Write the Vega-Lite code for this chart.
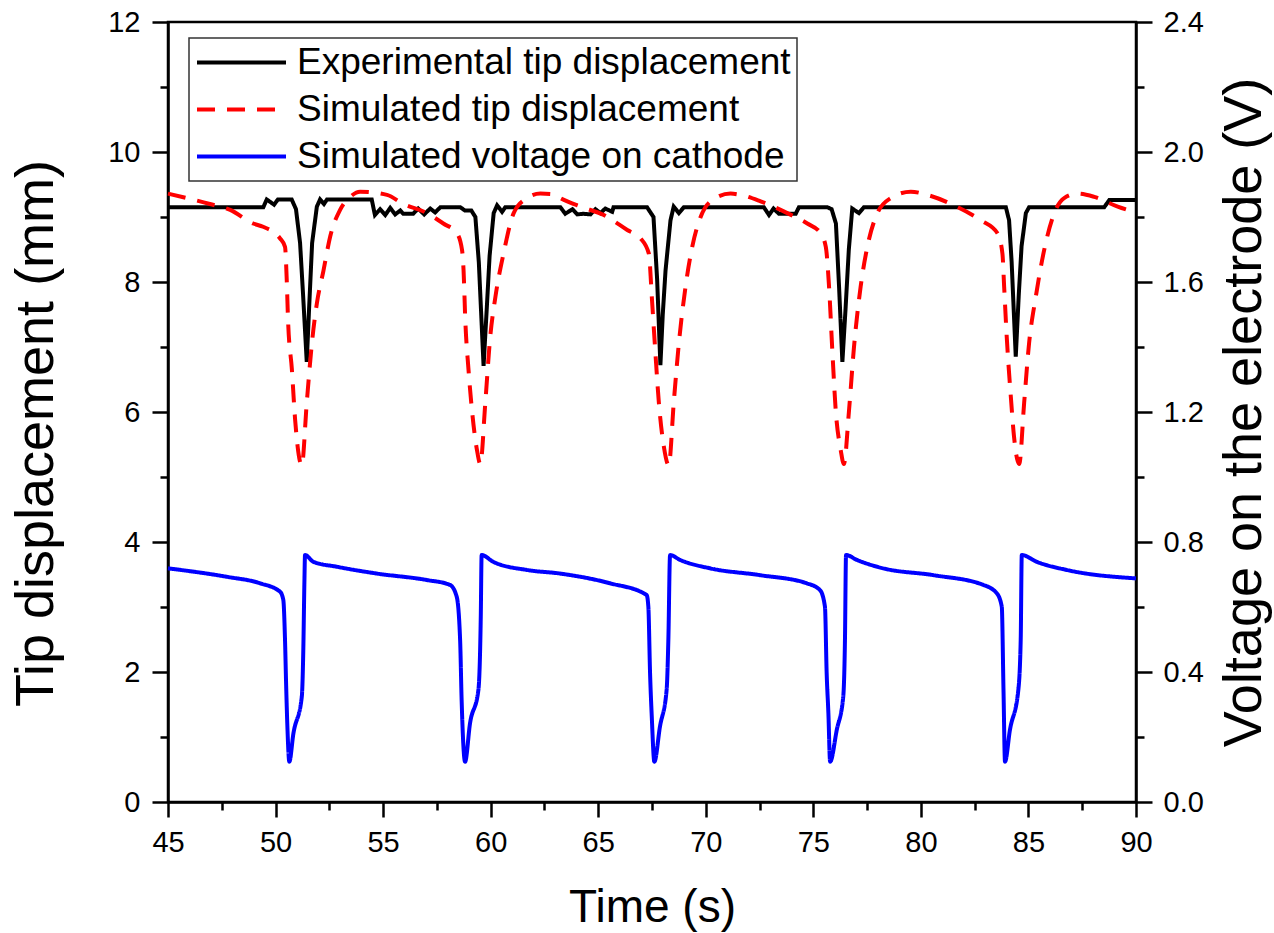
{
  "$schema": "https://vega.github.io/schema/vega-lite/v6.json",
  "autosize": {"type": "none"},
  "width": 968,
  "height": 780,
  "padding": {"left": 168, "top": 22, "right": 138, "bottom": 131},
  "background": "white",
  "config": {
    "font": "Liberation Sans",
    "view": {"stroke": "black", "strokeWidth": 2.5},
    "axis": {
      "domainColor": "black", "domainWidth": 2.5, "tickColor": "black", "tickWidth": 2.5,
      "labelColor": "black", "titleColor": "black", "grid": false,
      "labelFont": "Liberation Sans", "titleFont": "Liberation Sans", "titleFontWeight": "normal",
      "labelFontSize": 29, "titleFontSize": 54, "labelFlush": false, "labelOverlap": false, "labelBound": false
    },
    "legend": {"strokeColor": "#333333", "strokeWidth": 1.5, "fillColor": "white"}
  },
  "data": {"values": [
    {"t": 45.0, "v": 9.15, "s": "Experimental tip displacement"},
    {"t": 49.43, "v": 9.15, "s": "Experimental tip displacement"},
    {"t": 49.59, "v": 9.27, "s": "Experimental tip displacement"},
    {"t": 49.93, "v": 9.19, "s": "Experimental tip displacement"},
    {"t": 50.11, "v": 9.27, "s": "Experimental tip displacement"},
    {"t": 50.75, "v": 9.27, "s": "Experimental tip displacement"},
    {"t": 50.95, "v": 9.12, "s": "Experimental tip displacement"},
    {"t": 51.14, "v": 8.6, "s": "Experimental tip displacement"},
    {"t": 51.28, "v": 7.8, "s": "Experimental tip displacement"},
    {"t": 51.45, "v": 6.77, "s": "Experimental tip displacement"},
    {"t": 51.56, "v": 7.6, "s": "Experimental tip displacement"},
    {"t": 51.7, "v": 8.6, "s": "Experimental tip displacement"},
    {"t": 51.92, "v": 9.16, "s": "Experimental tip displacement"},
    {"t": 52.07, "v": 9.27, "s": "Experimental tip displacement"},
    {"t": 52.25, "v": 9.2, "s": "Experimental tip displacement"},
    {"t": 52.39, "v": 9.27, "s": "Experimental tip displacement"},
    {"t": 54.47, "v": 9.27, "s": "Experimental tip displacement"},
    {"t": 54.62, "v": 9.03, "s": "Experimental tip displacement"},
    {"t": 54.86, "v": 9.12, "s": "Experimental tip displacement"},
    {"t": 55.1, "v": 9.03, "s": "Experimental tip displacement"},
    {"t": 55.33, "v": 9.14, "s": "Experimental tip displacement"},
    {"t": 55.56, "v": 9.04, "s": "Experimental tip displacement"},
    {"t": 55.8, "v": 9.1, "s": "Experimental tip displacement"},
    {"t": 55.94, "v": 9.05, "s": "Experimental tip displacement"},
    {"t": 56.4, "v": 9.05, "s": "Experimental tip displacement"},
    {"t": 56.63, "v": 9.13, "s": "Experimental tip displacement"},
    {"t": 56.91, "v": 9.04, "s": "Experimental tip displacement"},
    {"t": 57.19, "v": 9.13, "s": "Experimental tip displacement"},
    {"t": 57.42, "v": 9.07, "s": "Experimental tip displacement"},
    {"t": 57.66, "v": 9.15, "s": "Experimental tip displacement"},
    {"t": 58.59, "v": 9.15, "s": "Experimental tip displacement"},
    {"t": 58.8, "v": 9.1, "s": "Experimental tip displacement"},
    {"t": 59.1, "v": 9.1, "s": "Experimental tip displacement"},
    {"t": 59.29, "v": 9.0, "s": "Experimental tip displacement"},
    {"t": 59.45, "v": 8.3, "s": "Experimental tip displacement"},
    {"t": 59.67, "v": 6.71, "s": "Experimental tip displacement"},
    {"t": 59.82, "v": 7.6, "s": "Experimental tip displacement"},
    {"t": 59.95, "v": 8.4, "s": "Experimental tip displacement"},
    {"t": 60.14, "v": 9.06, "s": "Experimental tip displacement"},
    {"t": 60.3, "v": 9.18, "s": "Experimental tip displacement"},
    {"t": 60.53, "v": 9.08, "s": "Experimental tip displacement"},
    {"t": 60.68, "v": 9.15, "s": "Experimental tip displacement"},
    {"t": 63.24, "v": 9.15, "s": "Experimental tip displacement"},
    {"t": 63.47, "v": 9.05, "s": "Experimental tip displacement"},
    {"t": 63.8, "v": 9.12, "s": "Experimental tip displacement"},
    {"t": 64.03, "v": 9.04, "s": "Experimental tip displacement"},
    {"t": 64.3, "v": 9.05, "s": "Experimental tip displacement"},
    {"t": 64.64, "v": 9.04, "s": "Experimental tip displacement"},
    {"t": 64.87, "v": 9.12, "s": "Experimental tip displacement"},
    {"t": 65.1, "v": 9.06, "s": "Experimental tip displacement"},
    {"t": 65.33, "v": 9.13, "s": "Experimental tip displacement"},
    {"t": 65.65, "v": 9.08, "s": "Experimental tip displacement"},
    {"t": 65.71, "v": 9.15, "s": "Experimental tip displacement"},
    {"t": 67.27, "v": 9.15, "s": "Experimental tip displacement"},
    {"t": 67.57, "v": 9.0, "s": "Experimental tip displacement"},
    {"t": 67.74, "v": 8.03, "s": "Experimental tip displacement"},
    {"t": 67.89, "v": 6.72, "s": "Experimental tip displacement"},
    {"t": 68.0, "v": 7.5, "s": "Experimental tip displacement"},
    {"t": 68.13, "v": 8.18, "s": "Experimental tip displacement"},
    {"t": 68.36, "v": 8.95, "s": "Experimental tip displacement"},
    {"t": 68.51, "v": 9.16, "s": "Experimental tip displacement"},
    {"t": 68.75, "v": 9.06, "s": "Experimental tip displacement"},
    {"t": 68.98, "v": 9.15, "s": "Experimental tip displacement"},
    {"t": 72.7, "v": 9.15, "s": "Experimental tip displacement"},
    {"t": 72.94, "v": 9.03, "s": "Experimental tip displacement"},
    {"t": 73.15, "v": 9.13, "s": "Experimental tip displacement"},
    {"t": 73.4, "v": 9.05, "s": "Experimental tip displacement"},
    {"t": 74.18, "v": 9.05, "s": "Experimental tip displacement"},
    {"t": 74.33, "v": 9.15, "s": "Experimental tip displacement"},
    {"t": 75.65, "v": 9.15, "s": "Experimental tip displacement"},
    {"t": 75.85, "v": 9.12, "s": "Experimental tip displacement"},
    {"t": 76.05, "v": 8.9, "s": "Experimental tip displacement"},
    {"t": 76.2, "v": 7.9, "s": "Experimental tip displacement"},
    {"t": 76.35, "v": 6.77, "s": "Experimental tip displacement"},
    {"t": 76.5, "v": 7.6, "s": "Experimental tip displacement"},
    {"t": 76.65, "v": 8.5, "s": "Experimental tip displacement"},
    {"t": 76.81, "v": 9.13, "s": "Experimental tip displacement"},
    {"t": 77.12, "v": 9.06, "s": "Experimental tip displacement"},
    {"t": 77.35, "v": 9.15, "s": "Experimental tip displacement"},
    {"t": 83.95, "v": 9.15, "s": "Experimental tip displacement"},
    {"t": 84.1, "v": 8.95, "s": "Experimental tip displacement"},
    {"t": 84.22, "v": 8.3, "s": "Experimental tip displacement"},
    {"t": 84.41, "v": 6.85, "s": "Experimental tip displacement"},
    {"t": 84.55, "v": 7.8, "s": "Experimental tip displacement"},
    {"t": 84.68, "v": 8.55, "s": "Experimental tip displacement"},
    {"t": 84.88, "v": 9.06, "s": "Experimental tip displacement"},
    {"t": 85.03, "v": 9.15, "s": "Experimental tip displacement"},
    {"t": 88.52, "v": 9.15, "s": "Experimental tip displacement"},
    {"t": 88.76, "v": 9.26, "s": "Experimental tip displacement"},
    {"t": 90.0, "v": 9.26, "s": "Experimental tip displacement"},

    {"t": 45.0, "v": 9.36, "s": "Simulated tip displacement"},
    {"t": 46.95, "v": 9.2, "s": "Simulated tip displacement"},
    {"t": 47.89, "v": 9.11, "s": "Simulated tip displacement"},
    {"t": 48.96, "v": 8.9, "s": "Simulated tip displacement"},
    {"t": 49.42, "v": 8.85, "s": "Simulated tip displacement"},
    {"t": 50.21, "v": 8.67, "s": "Simulated tip displacement"},
    {"t": 50.44, "v": 8.54, "s": "Simulated tip displacement"},
    {"t": 50.52, "v": 8.03, "s": "Simulated tip displacement"},
    {"t": 50.58, "v": 7.42, "s": "Simulated tip displacement"},
    {"t": 50.76, "v": 6.65, "s": "Simulated tip displacement"},
    {"t": 50.91, "v": 5.88, "s": "Simulated tip displacement"},
    {"t": 51.22, "v": 5.18, "s": "Simulated tip displacement"},
    {"t": 51.45, "v": 6.14, "s": "Simulated tip displacement"},
    {"t": 51.69, "v": 7.06, "s": "Simulated tip displacement"},
    {"t": 51.92, "v": 7.67, "s": "Simulated tip displacement"},
    {"t": 52.23, "v": 8.18, "s": "Simulated tip displacement"},
    {"t": 52.54, "v": 8.7, "s": "Simulated tip displacement"},
    {"t": 53.0, "v": 9.11, "s": "Simulated tip displacement"},
    {"t": 53.47, "v": 9.31, "s": "Simulated tip displacement"},
    {"t": 53.93, "v": 9.39, "s": "Simulated tip displacement"},
    {"t": 55.18, "v": 9.34, "s": "Simulated tip displacement"},
    {"t": 55.94, "v": 9.2, "s": "Simulated tip displacement"},
    {"t": 57.04, "v": 9.06, "s": "Simulated tip displacement"},
    {"t": 57.8, "v": 8.9, "s": "Simulated tip displacement"},
    {"t": 58.43, "v": 8.75, "s": "Simulated tip displacement"},
    {"t": 58.67, "v": 8.49, "s": "Simulated tip displacement"},
    {"t": 58.74, "v": 8.18, "s": "Simulated tip displacement"},
    {"t": 58.82, "v": 7.42, "s": "Simulated tip displacement"},
    {"t": 58.97, "v": 6.65, "s": "Simulated tip displacement"},
    {"t": 59.13, "v": 6.03, "s": "Simulated tip displacement"},
    {"t": 59.36, "v": 5.42, "s": "Simulated tip displacement"},
    {"t": 59.52, "v": 5.2, "s": "Simulated tip displacement"},
    {"t": 59.75, "v": 6.14, "s": "Simulated tip displacement"},
    {"t": 59.98, "v": 7.16, "s": "Simulated tip displacement"},
    {"t": 60.22, "v": 7.77, "s": "Simulated tip displacement"},
    {"t": 60.6, "v": 8.44, "s": "Simulated tip displacement"},
    {"t": 61.07, "v": 9.06, "s": "Simulated tip displacement"},
    {"t": 61.69, "v": 9.29, "s": "Simulated tip displacement"},
    {"t": 62.31, "v": 9.36, "s": "Simulated tip displacement"},
    {"t": 62.92, "v": 9.35, "s": "Simulated tip displacement"},
    {"t": 63.24, "v": 9.29, "s": "Simulated tip displacement"},
    {"t": 64.17, "v": 9.16, "s": "Simulated tip displacement"},
    {"t": 65.26, "v": 9.03, "s": "Simulated tip displacement"},
    {"t": 66.35, "v": 8.8, "s": "Simulated tip displacement"},
    {"t": 66.97, "v": 8.67, "s": "Simulated tip displacement"},
    {"t": 67.35, "v": 8.44, "s": "Simulated tip displacement"},
    {"t": 67.51, "v": 7.67, "s": "Simulated tip displacement"},
    {"t": 67.66, "v": 6.9, "s": "Simulated tip displacement"},
    {"t": 67.82, "v": 6.14, "s": "Simulated tip displacement"},
    {"t": 68.05, "v": 5.47, "s": "Simulated tip displacement"},
    {"t": 68.28, "v": 5.18, "s": "Simulated tip displacement"},
    {"t": 68.51, "v": 6.14, "s": "Simulated tip displacement"},
    {"t": 68.75, "v": 7.06, "s": "Simulated tip displacement"},
    {"t": 69.06, "v": 7.93, "s": "Simulated tip displacement"},
    {"t": 69.37, "v": 8.54, "s": "Simulated tip displacement"},
    {"t": 69.76, "v": 9.0, "s": "Simulated tip displacement"},
    {"t": 70.22, "v": 9.24, "s": "Simulated tip displacement"},
    {"t": 71.15, "v": 9.36, "s": "Simulated tip displacement"},
    {"t": 71.62, "v": 9.34, "s": "Simulated tip displacement"},
    {"t": 72.55, "v": 9.24, "s": "Simulated tip displacement"},
    {"t": 73.79, "v": 9.06, "s": "Simulated tip displacement"},
    {"t": 74.72, "v": 8.9, "s": "Simulated tip displacement"},
    {"t": 75.34, "v": 8.75, "s": "Simulated tip displacement"},
    {"t": 75.58, "v": 8.54, "s": "Simulated tip displacement"},
    {"t": 75.73, "v": 7.93, "s": "Simulated tip displacement"},
    {"t": 75.89, "v": 6.9, "s": "Simulated tip displacement"},
    {"t": 76.04, "v": 6.03, "s": "Simulated tip displacement"},
    {"t": 76.27, "v": 5.42, "s": "Simulated tip displacement"},
    {"t": 76.42, "v": 5.2, "s": "Simulated tip displacement"},
    {"t": 76.66, "v": 6.03, "s": "Simulated tip displacement"},
    {"t": 76.89, "v": 7.0, "s": "Simulated tip displacement"},
    {"t": 77.2, "v": 7.93, "s": "Simulated tip displacement"},
    {"t": 77.51, "v": 8.54, "s": "Simulated tip displacement"},
    {"t": 77.98, "v": 9.06, "s": "Simulated tip displacement"},
    {"t": 78.6, "v": 9.29, "s": "Simulated tip displacement"},
    {"t": 79.53, "v": 9.39, "s": "Simulated tip displacement"},
    {"t": 80.3, "v": 9.34, "s": "Simulated tip displacement"},
    {"t": 81.54, "v": 9.18, "s": "Simulated tip displacement"},
    {"t": 82.78, "v": 8.95, "s": "Simulated tip displacement"},
    {"t": 83.56, "v": 8.75, "s": "Simulated tip displacement"},
    {"t": 83.79, "v": 8.44, "s": "Simulated tip displacement"},
    {"t": 83.87, "v": 7.93, "s": "Simulated tip displacement"},
    {"t": 83.99, "v": 7.16, "s": "Simulated tip displacement"},
    {"t": 84.18, "v": 6.24, "s": "Simulated tip displacement"},
    {"t": 84.33, "v": 5.62, "s": "Simulated tip displacement"},
    {"t": 84.57, "v": 5.2, "s": "Simulated tip displacement"},
    {"t": 84.8, "v": 6.14, "s": "Simulated tip displacement"},
    {"t": 85.03, "v": 7.06, "s": "Simulated tip displacement"},
    {"t": 85.34, "v": 7.77, "s": "Simulated tip displacement"},
    {"t": 85.73, "v": 8.49, "s": "Simulated tip displacement"},
    {"t": 86.2, "v": 9.06, "s": "Simulated tip displacement"},
    {"t": 86.66, "v": 9.29, "s": "Simulated tip displacement"},
    {"t": 87.28, "v": 9.36, "s": "Simulated tip displacement"},
    {"t": 88.06, "v": 9.31, "s": "Simulated tip displacement"},
    {"t": 89.15, "v": 9.16, "s": "Simulated tip displacement"},
    {"t": 90.0, "v": 9.07, "s": "Simulated tip displacement"},

    {"t": 45.0, "v": 0.719, "s": "Simulated voltage on cathode"},
    {"t": 47.73, "v": 0.693, "s": "Simulated voltage on cathode"},
    {"t": 49.28, "v": 0.673, "s": "Simulated voltage on cathode"},
    {"t": 50.21, "v": 0.647, "s": "Simulated voltage on cathode"},
    {"t": 50.36, "v": 0.622, "s": "Simulated voltage on cathode"},
    {"t": 50.44, "v": 0.498, "s": "Simulated voltage on cathode"},
    {"t": 50.49, "v": 0.365, "s": "Simulated voltage on cathode"},
    {"t": 50.55, "v": 0.232, "s": "Simulated voltage on cathode"},
    {"t": 50.64, "v": 0.124, "s": "Simulated voltage on cathode"},
    {"t": 50.83, "v": 0.211, "s": "Simulated voltage on cathode"},
    {"t": 51.22, "v": 0.324, "s": "Simulated voltage on cathode"},
    {"t": 51.29, "v": 0.468, "s": "Simulated voltage on cathode"},
    {"t": 51.34, "v": 0.673, "s": "Simulated voltage on cathode"},
    {"t": 51.37, "v": 0.76, "s": "Simulated voltage on cathode"},
    {"t": 51.76, "v": 0.739, "s": "Simulated voltage on cathode"},
    {"t": 52.84, "v": 0.724, "s": "Simulated voltage on cathode"},
    {"t": 54.7, "v": 0.703, "s": "Simulated voltage on cathode"},
    {"t": 57.03, "v": 0.683, "s": "Simulated voltage on cathode"},
    {"t": 58.11, "v": 0.668, "s": "Simulated voltage on cathode"},
    {"t": 58.42, "v": 0.632, "s": "Simulated voltage on cathode"},
    {"t": 58.58, "v": 0.498, "s": "Simulated voltage on cathode"},
    {"t": 58.65, "v": 0.314, "s": "Simulated voltage on cathode"},
    {"t": 58.81, "v": 0.124, "s": "Simulated voltage on cathode"},
    {"t": 59.04, "v": 0.242, "s": "Simulated voltage on cathode"},
    {"t": 59.43, "v": 0.345, "s": "Simulated voltage on cathode"},
    {"t": 59.54, "v": 0.57, "s": "Simulated voltage on cathode"},
    {"t": 59.58, "v": 0.76, "s": "Simulated voltage on cathode"},
    {"t": 60.12, "v": 0.739, "s": "Simulated voltage on cathode"},
    {"t": 61.68, "v": 0.714, "s": "Simulated voltage on cathode"},
    {"t": 63.22, "v": 0.703, "s": "Simulated voltage on cathode"},
    {"t": 65.55, "v": 0.673, "s": "Simulated voltage on cathode"},
    {"t": 67.25, "v": 0.637, "s": "Simulated voltage on cathode"},
    {"t": 67.33, "v": 0.601, "s": "Simulated voltage on cathode"},
    {"t": 67.41, "v": 0.396, "s": "Simulated voltage on cathode"},
    {"t": 67.49, "v": 0.262, "s": "Simulated voltage on cathode"},
    {"t": 67.61, "v": 0.124, "s": "Simulated voltage on cathode"},
    {"t": 67.87, "v": 0.232, "s": "Simulated voltage on cathode"},
    {"t": 68.18, "v": 0.345, "s": "Simulated voltage on cathode"},
    {"t": 68.26, "v": 0.498, "s": "Simulated voltage on cathode"},
    {"t": 68.34, "v": 0.76, "s": "Simulated voltage on cathode"},
    {"t": 68.8, "v": 0.745, "s": "Simulated voltage on cathode"},
    {"t": 70.2, "v": 0.719, "s": "Simulated voltage on cathode"},
    {"t": 72.52, "v": 0.698, "s": "Simulated voltage on cathode"},
    {"t": 74.69, "v": 0.673, "s": "Simulated voltage on cathode"},
    {"t": 75.31, "v": 0.652, "s": "Simulated voltage on cathode"},
    {"t": 75.54, "v": 0.601, "s": "Simulated voltage on cathode"},
    {"t": 75.62, "v": 0.396, "s": "Simulated voltage on cathode"},
    {"t": 75.7, "v": 0.273, "s": "Simulated voltage on cathode"},
    {"t": 75.78, "v": 0.124, "s": "Simulated voltage on cathode"},
    {"t": 76.09, "v": 0.222, "s": "Simulated voltage on cathode"},
    {"t": 76.39, "v": 0.324, "s": "Simulated voltage on cathode"},
    {"t": 76.47, "v": 0.498, "s": "Simulated voltage on cathode"},
    {"t": 76.52, "v": 0.76, "s": "Simulated voltage on cathode"},
    {"t": 77.02, "v": 0.745, "s": "Simulated voltage on cathode"},
    {"t": 78.25, "v": 0.719, "s": "Simulated voltage on cathode"},
    {"t": 80.58, "v": 0.698, "s": "Simulated voltage on cathode"},
    {"t": 82.9, "v": 0.668, "s": "Simulated voltage on cathode"},
    {"t": 83.53, "v": 0.642, "s": "Simulated voltage on cathode"},
    {"t": 83.76, "v": 0.601, "s": "Simulated voltage on cathode"},
    {"t": 83.84, "v": 0.345, "s": "Simulated voltage on cathode"},
    {"t": 83.91, "v": 0.124, "s": "Simulated voltage on cathode"},
    {"t": 84.14, "v": 0.222, "s": "Simulated voltage on cathode"},
    {"t": 84.53, "v": 0.345, "s": "Simulated voltage on cathode"},
    {"t": 84.64, "v": 0.498, "s": "Simulated voltage on cathode"},
    {"t": 84.69, "v": 0.76, "s": "Simulated voltage on cathode"},
    {"t": 85.39, "v": 0.739, "s": "Simulated voltage on cathode"},
    {"t": 86.78, "v": 0.714, "s": "Simulated voltage on cathode"},
    {"t": 90.0, "v": 0.688, "s": "Simulated voltage on cathode"}
  ]},
  "layer": [
    {
      "transform": [{"filter": "datum.s === 'Experimental tip displacement'"}],
      "mark": {"type": "line", "strokeWidth": 4},
      "encoding": {
        "x": {"field": "t", "type": "quantitative", "scale": {"domain": [45, 90], "nice": false, "zero": false},
          "axis": {"orient": "bottom", "values": [45, 50, 55, 60, 65, 70, 75, 80, 85, 90], "tickSize": 15, "labelPadding": 11, "title": "Time (s)", "titleFontSize": 46, "titlePadding": 28}},
        "y": {"field": "v", "type": "quantitative", "scale": {"domain": [0, 12], "nice": false, "zero": false},
          "axis": {"orient": "left", "values": [0, 2, 4, 6, 8, 10, 12], "tickSize": 16, "labelPadding": 12, "title": "Tip displacement (mm)", "titlePadding": 44, "titleY": 411}},
        "color": {"field": "s", "type": "nominal",
          "scale": {"domain": ["Experimental tip displacement", "Simulated tip displacement", "Simulated voltage on cathode"], "range": ["#000000", "#ff0000", "#0000ff"]},
          "legend": {"title": null, "orient": "none", "legendX": 21, "legendY": 16, "symbolType": "stroke", "symbolSize": 7921, "symbolStrokeWidth": 4, "labelFontSize": 37, "labelColor": "black", "labelLimit": 900, "labelOffset": 9, "clipHeight": 37, "rowPadding": 9, "padding": 6}},
        "strokeDash": {"field": "s", "type": "nominal",
          "scale": {"domain": ["Experimental tip displacement", "Simulated tip displacement", "Simulated voltage on cathode"], "range": [[1, 0], [18, 12], [1, 0]]},
          "legend": {"title": null, "orient": "none", "legendX": 21, "legendY": 16, "symbolType": "stroke", "symbolSize": 7921, "symbolStrokeWidth": 4, "labelFontSize": 37, "labelColor": "black", "labelLimit": 900, "labelOffset": 9, "clipHeight": 37, "rowPadding": 9, "padding": 6}}
      }
    },
    {
      "transform": [{"filter": "datum.s === 'Simulated tip displacement'"}],
      "mark": {"type": "line", "strokeWidth": 4, "interpolate": "monotone"},
      "encoding": {
        "x": {"field": "t", "type": "quantitative", "scale": {"domain": [45, 90], "nice": false, "zero": false}, "axis": null},
        "y": {"field": "v", "type": "quantitative", "scale": {"domain": [0, 12], "nice": false, "zero": false}, "axis": null},
        "color": {"field": "s", "type": "nominal",
          "scale": {"domain": ["Experimental tip displacement", "Simulated tip displacement", "Simulated voltage on cathode"], "range": ["#000000", "#ff0000", "#0000ff"]},
          "legend": {"title": null, "orient": "none", "legendX": 21, "legendY": 16, "symbolType": "stroke", "symbolSize": 7921, "symbolStrokeWidth": 4, "labelFontSize": 37, "labelColor": "black", "labelLimit": 900, "labelOffset": 9, "clipHeight": 37, "rowPadding": 9, "padding": 6}},
        "strokeDash": {"field": "s", "type": "nominal",
          "scale": {"domain": ["Experimental tip displacement", "Simulated tip displacement", "Simulated voltage on cathode"], "range": [[1, 0], [18, 12], [1, 0]]},
          "legend": {"title": null, "orient": "none", "legendX": 21, "legendY": 16, "symbolType": "stroke", "symbolSize": 7921, "symbolStrokeWidth": 4, "labelFontSize": 37, "labelColor": "black", "labelLimit": 900, "labelOffset": 9, "clipHeight": 37, "rowPadding": 9, "padding": 6}}
      }
    },
    {
      "transform": [{"filter": "datum.s === 'Simulated voltage on cathode'"}],
      "mark": {"type": "line", "strokeWidth": 4, "interpolate": "monotone"},
      "encoding": {
        "x": {"field": "t", "type": "quantitative", "scale": {"domain": [45, 90], "nice": false, "zero": false}, "axis": null},
        "y": {"field": "v", "type": "quantitative", "scale": {"domain": [0, 2.4], "nice": false, "zero": false},
          "axis": {"orient": "right", "values": [0, 0.4, 0.8, 1.2, 1.6, 2.0, 2.4], "format": ".1f", "tickSize": 16, "labelPadding": 11, "title": "Voltage on the electrode (V)", "titleAngle": 270, "titlePadding": 68}},
        "color": {"field": "s", "type": "nominal",
          "scale": {"domain": ["Experimental tip displacement", "Simulated tip displacement", "Simulated voltage on cathode"], "range": ["#000000", "#ff0000", "#0000ff"]},
          "legend": {"title": null, "orient": "none", "legendX": 21, "legendY": 16, "symbolType": "stroke", "symbolSize": 7921, "symbolStrokeWidth": 4, "labelFontSize": 37, "labelColor": "black", "labelLimit": 900, "labelOffset": 9, "clipHeight": 37, "rowPadding": 9, "padding": 6}},
        "strokeDash": {"field": "s", "type": "nominal",
          "scale": {"domain": ["Experimental tip displacement", "Simulated tip displacement", "Simulated voltage on cathode"], "range": [[1, 0], [18, 12], [1, 0]]},
          "legend": {"title": null, "orient": "none", "legendX": 21, "legendY": 16, "symbolType": "stroke", "symbolSize": 7921, "symbolStrokeWidth": 4, "labelFontSize": 37, "labelColor": "black", "labelLimit": 900, "labelOffset": 9, "clipHeight": 37, "rowPadding": 9, "padding": 6}}
      }
    },
    {
      "transform": [{"filter": "datum.s === 'Experimental tip displacement'"}],
      "mark": {"type": "line", "opacity": 0},
      "encoding": {
        "x": {"field": "t", "type": "quantitative", "scale": {"domain": [45, 90], "nice": false, "zero": false},
          "axis": {"orient": "bottom", "values": [47.5, 52.5, 57.5, 62.5, 67.5, 72.5, 77.5, 82.5, 87.5], "tickSize": 8, "labels": false, "domain": false, "title": null}},
        "y": {"field": "v", "type": "quantitative", "scale": {"domain": [0, 12], "nice": false, "zero": false},
          "axis": {"orient": "left", "values": [1, 3, 5, 7, 9, 11], "tickSize": 8, "labels": false, "domain": false, "title": null}}
      }
    },
    {
      "transform": [{"filter": "datum.s === 'Experimental tip displacement'"}],
      "mark": {"type": "line", "opacity": 0},
      "encoding": {
        "x": {"field": "t", "type": "quantitative", "scale": {"domain": [45, 90], "nice": false, "zero": false}, "axis": null},
        "y": {"field": "v", "type": "quantitative", "scale": {"domain": [0, 12], "nice": false, "zero": false},
          "axis": {"orient": "right", "values": [1, 3, 5, 7, 9, 11], "tickSize": 8, "labels": false, "domain": false, "title": null}}
      }
    }
  ],
  "resolve": {"scale": {"y": "independent"}, "axis": {"x": "independent", "y": "independent"}}
}
